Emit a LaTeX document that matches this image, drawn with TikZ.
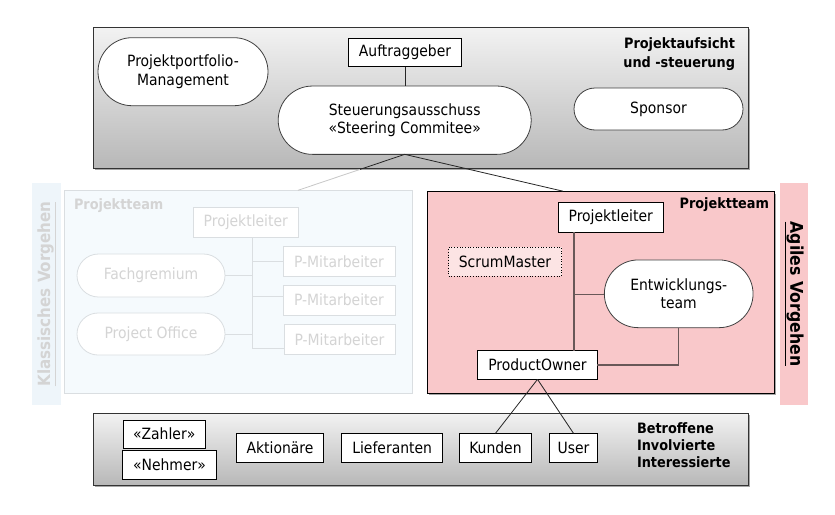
\documentclass[tikz,border=0pt]{standalone}
\usepackage{fontspec}
\setmainfont{DejaVu Sans Condensed}
\usetikzlibrary{shapes.misc,shadows,calc}
\definecolor{pinkf}{RGB}{249,200,202}
\definecolor{pinkl}{RGB}{252,228,228}
\definecolor{clsfill}{RGB}{245,250,253}
\definecolor{clsband}{RGB}{238,245,250}
\definecolor{clsline}{RGB}{218,222,225}
\definecolor{clstext}{RGB}{212,212,212}
\definecolor{agline}{RGB}{105,88,88}
\begin{document}
\begin{tikzpicture}[x=1pt,y=-1pt,
  every node/.style={font=\fontsize{15.5}{18.5}\selectfont, inner sep=2pt, outer sep=0pt},
  box/.style={draw=black, fill=white, line width=0.8pt, rectangle, align=center},
  pill/.style={draw=black!75, fill=white, line width=0.8pt, rounded rectangle, align=center},
  clsbox/.style={draw=clsline, fill=white, line width=0.8pt, rectangle, text=clstext},
  clspill/.style={draw=clsline, fill=white, line width=0.8pt, rounded rectangle, text=clstext},
  graypanel/.style={draw=black!80, line width=0.8pt, top color=black!5, bottom color=black!28,
     drop shadow={shadow xshift=2pt, shadow yshift=-2pt, opacity=.35, fill=black}},
  lbl/.style={font=\fontsize{14.3}{19.5}\selectfont\bfseries},
  topconn/.style={draw=black!85, line width=0.8pt},
  agconn/.style={draw=agline, line width=1.2pt},
  clsconn/.style={draw=clsline, line width=1pt}]
\useasboundingbox (0,0) rectangle (835,514);

% ---------- panels ----------
\node[graypanel, minimum width=655pt, minimum height=141pt] (toppanel) at (420.5,97.7) {};
\node[graypanel, minimum width=655pt, minimum height=72pt] (botpanel) at (420.5,449.2) {};
\node[draw=clsline, fill=clsfill, line width=0.8pt, minimum width=348pt, minimum height=203pt] (clspanel) at (238.3,292.3) {};
\node[draw=black, fill=pinkf, line width=0.8pt, minimum width=347pt, minimum height=201.6pt,
  drop shadow={shadow xshift=2pt, shadow yshift=-2pt, opacity=.35, fill=black}] (agpanel) at (600.8,292.5) {};
\node[fill=clsband, minimum width=29pt, minimum height=222pt] (clsband) at (46.5,294) {};
\node[fill=pinkf, minimum width=28pt, minimum height=222pt] (agband) at (794,294) {};

% ---------- band labels ----------
\node[rotate=90, text=clstext, font=\fontsize{16.8}{18}\selectfont\bfseries] (clslabel) at (clsband.center) {\underline{Klassisches Vorgehen}};
\node[rotate=-90, text=black, font=\fontsize{17.5}{18}\selectfont\bfseries] (aglabel) at (agband.center) {\underline{Agiles Vorgehen}};

% ---------- top panel ----------
\node[pill, minimum width=174pt, minimum height=68pt] (ppm) at (183,71.7) {Projektportfolio-\\Management};
\node[box, minimum width=113pt, minimum height=28.5pt] (auf) at (405,52.5) {Auftraggeber};
\node[pill, minimum width=257pt, minimum height=68.3pt] (steu) at (404.7,120.2) {Steuerungsausschuss\\«Steering Commitee»};
\node[pill, minimum width=173pt, minimum height=42pt] (spon) at (658.5,109) {Sponsor};
\node[lbl, anchor=east, align=right] (toptitle) at (737,54) {Projektaufsicht\\und -steuerung};
\draw[topconn] (auf.south) -- (auf.south |- steu.north);

% ---------- classical panel ----------
\node[lbl, text=clstext, anchor=west] (clstitle) at (72,205.5) {Projektteam};
\node[clsbox, minimum width=105pt, minimum height=30pt] (plc) at (245.8,222.3) {Projektleiter};
\node[clsbox, minimum width=112pt, minimum height=29.5pt] (pm1) at (339,261.3) {P-Mitarbeiter};
\node[clsbox, minimum width=112pt, minimum height=30pt] (pm2) at (339,300.2) {P-Mitarbeiter};
\node[clsbox, minimum width=111pt, minimum height=30pt] (pm3) at (339.5,339.3) {P-Mitarbeiter};
\node[clspill, minimum width=152pt, minimum height=43pt] (fach) at (151,275.5) {Fachgremium};
\node[clspill, minimum width=152pt, minimum height=42pt] (poff) at (151,334) {Project Office};
\coordinate (cvx) at (252.3,348.3);
\draw[clsconn] (plc.south -| cvx) -- (cvx);
\draw[clsconn] (cvx |- pm1.west) -- (pm1.west);
\draw[clsconn] (cvx |- 0,296.7) -- (pm2.west |- 0,296.7);
\draw[clsconn] (cvx) -- (cvx -| pm3.west);
\draw[clsconn] (fach.east) -- (fach.east -| cvx);
\draw[clsconn] (poff.east) -- (poff.east -| cvx);

% ---------- agile panel ----------
\node[lbl, anchor=east] (agtitle) at (771,204.3) {Projektteam};
\node[box, minimum width=105pt, minimum height=30pt] (pla) at (610.7,217.3) {Projektleiter};
\node[draw=black, dotted, fill=pinkl, line width=0.7pt, minimum width=113pt, minimum height=28.7pt] (sm) at (505,261.7) {ScrumMaster};
\node[pill, minimum width=152.7pt, minimum height=67.7pt] (et) at (678.7,293.8) {Entwicklungs-\\team};
\node[box, minimum width=119.7pt, minimum height=28.7pt] (po) at (537.5,365) {ProductOwner};
\coordinate (avx) at (574,294.7);
\draw[agconn] (pla.south -| avx) -- (po.north -| avx);
\draw[agconn] (avx) -- (avx -| et.west);
\draw[agconn] (et.south) |- (po.east);

% ---------- connectors from steering committee ----------
\coordinate (clsc) at (298,190.3);
\coordinate (agc) at (563,191.2);
\coordinate (fadept) at ($(steu.south)!0.42!(clsc)$);
\draw[topconn] (steu.south) -- (fadept);
\draw[draw=black!22, line width=0.8pt] (fadept) -- (clsc);
\draw[topconn] (steu.south) -- (agc);

% ---------- bottom panel ----------
\node[box, minimum width=81.7pt, minimum height=28.3pt] (zahler) at (164.2,434.2) {«Zahler»};
\node[box, minimum width=94.3pt, minimum height=29pt] (nehmer) at (169.5,464.5) {«Nehmer»};
\node[box, minimum width=86.7pt, minimum height=29pt] (aktion) at (280,447.8) {Aktionäre};
\node[box, minimum width=101pt, minimum height=29pt] (liefer) at (392.2,447.8) {Lieferanten};
\node[box, minimum width=72.3pt, minimum height=29pt] (kunden) at (495.5,447.8) {Kunden};
\node[box, minimum width=48.3pt, minimum height=29pt] (user) at (573.5,447.8) {User};
\node[lbl, anchor=west, align=left, font=\fontsize{14.3}{17}\selectfont\bfseries] (bottitle) at (635,445) {Betroffene\\Involvierte\\Interessierte};
\draw[topconn] (po.south) -- (kunden.north);
\draw[topconn] (po.south) -- (user.north);
\end{tikzpicture}
\end{document}
